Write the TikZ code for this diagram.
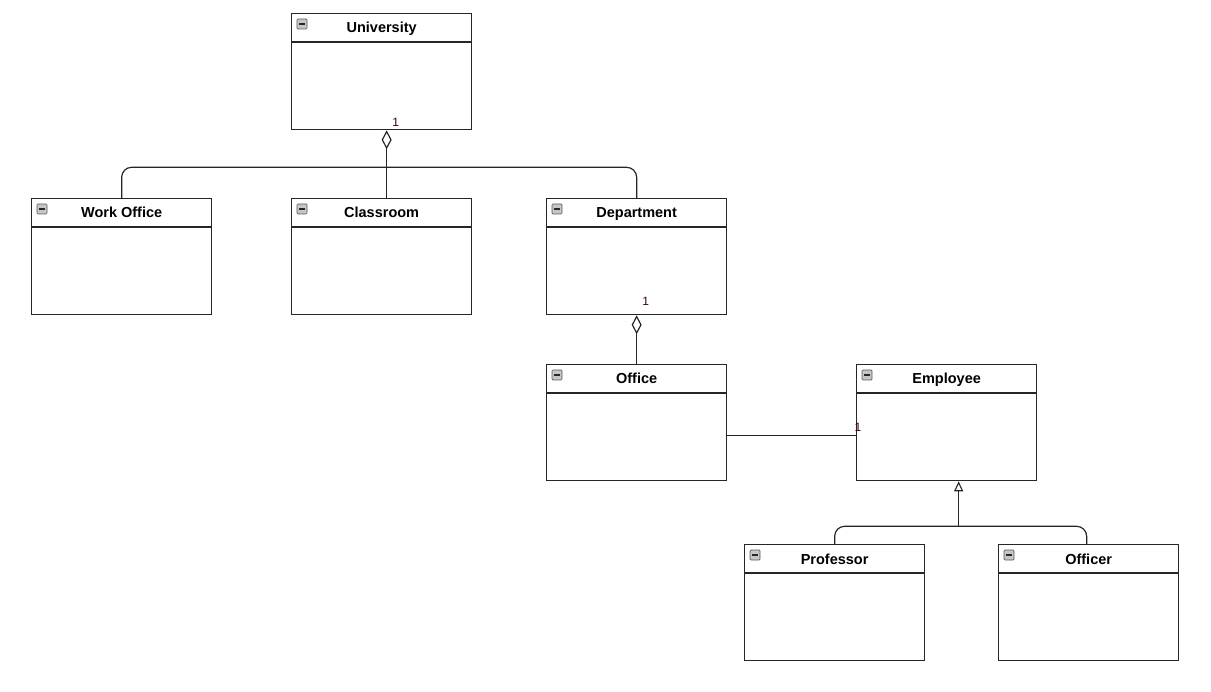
\documentclass[tikz,border=0pt]{standalone}
\usepackage{fontspec}
\setmainfont{Liberation Sans}
\usetikzlibrary{arrows.meta}
\tikzset{
  x=1pt, y=1pt,
  classbox/.style={draw=black!85, line width=1.3pt, fill=white, minimum width=180pt, minimum height=116pt, anchor=north west, inner sep=0pt},
  conn/.style={draw=black!85, line width=1.2pt},
  agg/.style={conn, -{Diamond[open, length=19pt, width=10pt, line width=1.2pt]}},
  gen/.style={conn, -{Triangle[open, length=10pt, width=9pt, line width=1.1pt]}},
  mult/.style={font=\fontsize{12}{14}\selectfont, text=black!75!red, inner sep=0pt}
}
% one UML class box: name, x, y (top left), title
\newcommand\umlclass[4]{%
  \node[classbox] (#1) at (#2,-#3) {};
  \draw[line width=1.3pt, draw=black!85] ([yshift=-29pt]#1.north west) -- ([yshift=-29pt]#1.north east);
  \node[font=\bfseries\fontsize{14.5}{16}\selectfont, inner sep=0pt, anchor=base] (#1-title) at ([yshift=-20pt]#1.north) {#4};
  \node[draw=gray!70!black, fill=gray!45, line width=0.7pt, minimum size=10pt, inner sep=0pt, rounded corners=1pt] (#1-icon) at ([xshift=11pt,yshift=-11pt]#1.north west) {};
  \draw[line width=1.1pt, gray!30!black] ([xshift=-2.8pt]#1-icon.center) -- ([xshift=2.8pt]#1-icon.center);
}
\begin{document}
\begin{tikzpicture}
\useasboundingbox (0,0) rectangle (1211,-692);
\umlclass{univ}{291}{13}{University}
\umlclass{wo}{31}{198}{Work Office}
\umlclass{cls}{291}{198}{Classroom}
\umlclass{dep}{546}{198}{Department}
\umlclass{off}{546}{364}{Office}
\umlclass{emp}{856}{364}{Employee}
\umlclass{prof}{744}{544}{Professor}
\umlclass{offr}{998}{544}{Officer}

% University aggregates work office, classroom and department
\draw[agg] ([xshift=5pt]cls.north) -- ([xshift=5pt]univ.south);
\draw[conn, rounded corners=10pt] (wo.north) |- ([xshift=5pt,yshift=-37pt]univ.south) -| (dep.north);
\node[mult] (m1) at ([xshift=14pt,yshift=8pt]univ.south) {1};

% Department aggregates office
\draw[agg] (off.north) -- (dep.south);
\node[mult] (m2) at ([xshift=9pt,yshift=14pt]dep.south) {1};

% Office -- Employee association
\draw[conn] ([yshift=-13pt]off.east) -- ([yshift=-13pt]emp.west);
\node[mult] (m3) at ([xshift=2pt,yshift=-5pt]emp.west) {1};

% Professor and Officer specialise Employee
\draw[gen] ([xshift=12pt,yshift=-45pt]emp.south) -- ([xshift=12pt]emp.south);
\draw[conn, rounded corners=10pt] (prof.north) |- ([xshift=12pt,yshift=-45pt]emp.south) -| ([xshift=-2pt]offr.north);
\end{tikzpicture}
\end{document}
